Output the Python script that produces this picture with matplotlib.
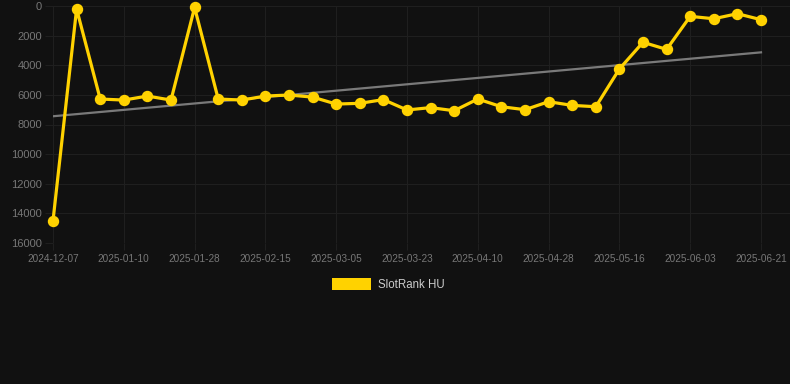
import numpy as np
import matplotlib
matplotlib.use('Agg')
import matplotlib.pyplot as plt
from matplotlib.patches import Rectangle

# weekly SlotRank HU values (lower = better rank)
rank = [14500, 200, 6280, 6350, 6080, 6350, 100, 6280, 6350, 6080,
        6010, 6150, 6620, 6570, 6320, 7020, 6860, 7070, 6280, 6800,
        7000, 6460, 6710, 6800, 4250, 2450, 2930, 700, 860, 520, 925]
tick_labels = ['2024-12-07', '2025-01-10', '2025-01-28', '2025-02-15',
               '2025-03-05', '2025-03-23', '2025-04-10', '2025-04-28',
               '2025-05-16', '2025-06-03', '2025-06-21']
y_ticks = [0, 2000, 4000, 6000, 8000, 10000, 12000, 14000, 16000]

BG = '#111111'
GRID = '#1f1f1f'
LABEL = '#777777'
YELLOW = '#FFD200'

plt.rcParams['font.family'] = ['Liberation Sans', 'DejaVu Sans']

fig = plt.figure(figsize=(7.9, 3.84), dpi=100, facecolor=BG)
ax = fig.add_axes([53 / 790, 1 - 243 / 384, 737 / 790, 237 / 384])
ax.set_facecolor(BG)

x = np.arange(len(rank))
# linear trend over the series
k, b = np.polyfit(x, rank, 1)
ax.plot([x[0], x[-1]], [k * x[0] + b, k * x[-1] + b], color='#7a7a7a', lw=1.6, zorder=2)
ax.plot(x, rank, color=YELLOW, lw=2.3, marker='o', ms=7.2, zorder=3, clip_on=False)

ax.set_xlim(0, 30 * 737 / 708)
ax.set_ylim(16000, 0)
ax.set_yticks(y_ticks)
ax.set_yticklabels([str(v) for v in y_ticks])
ax.set_xticks(x[::3])
ax.set_xticklabels(tick_labels)
ax.grid(True, color=GRID, lw=0.8)
ax.tick_params(axis='y', colors=GRID, labelcolor=LABEL, labelsize=8, length=6, pad=2)
ax.tick_params(axis='x', colors=GRID, labelcolor=LABEL, labelsize=7.2, length=5, pad=3)
for s in ax.spines.values():
    s.set_visible(False)

# legend
fig.patches.append(Rectangle((332 / 790, 1 - 290 / 384), 39 / 790, 12 / 384,
                             transform=fig.transFigure, facecolor=YELLOW, edgecolor='none'))
fig.text(378 / 790, 1 - 284.5 / 384, 'SlotRank HU', color='#cccccc', fontsize=8.3, va='center')

fig.savefig('out.png', dpi=100, facecolor=BG)
